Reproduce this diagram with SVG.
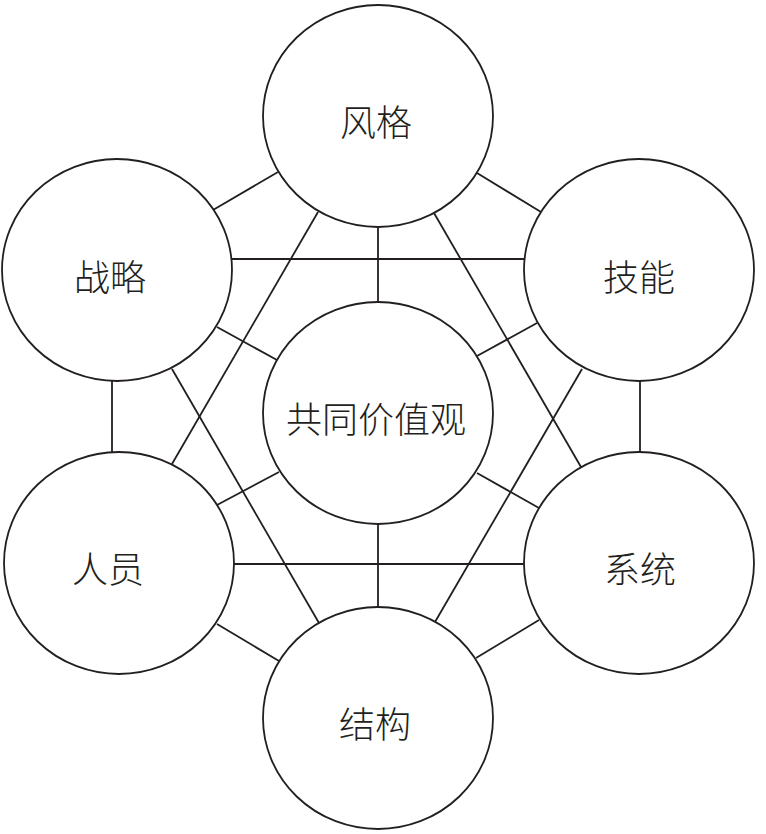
<svg xmlns="http://www.w3.org/2000/svg" width="766" height="834" viewBox="0 0 766 834">
<style>
.n{fill:#fff;stroke:#231f20;stroke-width:1.8}
.c line{stroke:#231f20;stroke-width:1.8}
.t{font-family:"Noto Sans CJK SC","Noto Sans CJK JP",sans-serif;font-size:36px;font-weight:300;fill:#231f20;text-anchor:middle;dominant-baseline:central}
</style>
<rect width="766" height="834" fill="#fff"/>
<g id="connectors" class="c">
<line x1="112" y1="381" x2="112" y2="453"/>
<line x1="640" y1="381" x2="640" y2="453"/>
<line x1="378" y1="227" x2="378" y2="303"/>
<line x1="378" y1="524" x2="378" y2="607"/>
<line x1="232" y1="259" x2="524" y2="259"/>
<line x1="234" y1="564" x2="524" y2="564"/>
<line x1="278" y1="172" x2="213" y2="210"/>
<line x1="477" y1="173" x2="541" y2="212"/>
<line x1="217" y1="327" x2="277" y2="360"/>
<line x1="537" y1="323" x2="477" y2="356"/>
<line x1="217" y1="505" x2="279" y2="472"/>
<line x1="539" y1="508" x2="477" y2="473"/>
<line x1="217" y1="624" x2="279" y2="661"/>
<line x1="539" y1="620" x2="476" y2="658"/>
<line x1="318" y1="212" x2="172" y2="464"/>
<line x1="434" y1="213" x2="581" y2="467"/>
<line x1="172" y1="369" x2="319" y2="623"/>
<line x1="582" y1="369" x2="435" y2="622"/>
</g>
<g id="fengge"><ellipse class="n" cx="378" cy="116" rx="115" ry="111"/><text class="t" x="376" y="120">风格</text></g>
<g id="zhanlue"><ellipse class="n" cx="117" cy="270" rx="115" ry="111"/><text class="t" x="110" y="275">战略</text></g>
<g id="jineng"><ellipse class="n" cx="639" cy="270" rx="115" ry="111"/><text class="t" x="639" y="275">技能</text></g>
<g id="center"><ellipse class="n" cx="378" cy="413" rx="115" ry="111"/><text class="t" x="376" y="417">共同价值观</text></g>
<g id="renyuan"><ellipse class="n" cx="119" cy="563" rx="115" ry="111"/><text class="t" x="108" y="567">人员</text></g>
<g id="xitong"><ellipse class="n" cx="639" cy="563" rx="115" ry="111"/><text class="t" x="640" y="567">系统</text></g>
<g id="jiegou"><ellipse class="n" cx="378" cy="718" rx="115" ry="111"/><text class="t" x="375" y="722">结构</text></g>
</svg>
